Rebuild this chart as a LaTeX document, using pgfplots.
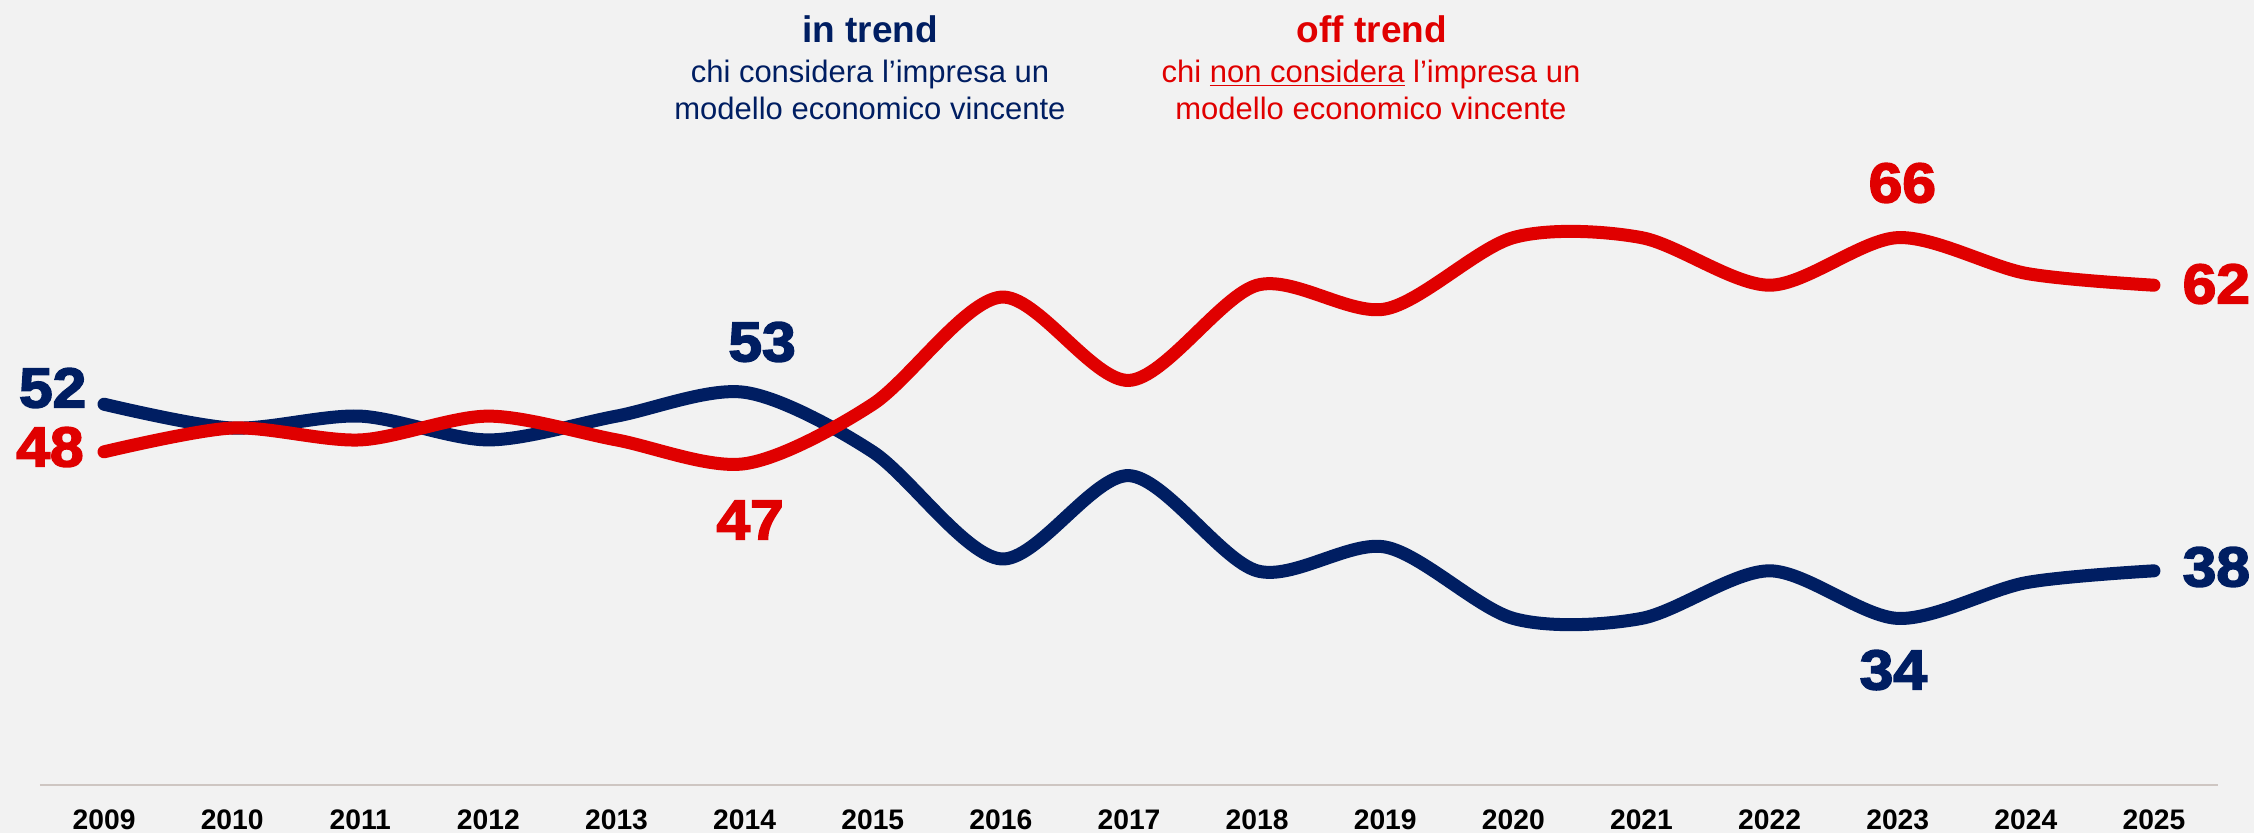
\documentclass[border=0pt]{standalone}
\usepackage{fontspec}
\setmainfont{Liberation Sans}
\newfontfamily\blackfont{Liberation Sans Bold}[FakeBold=3,FakeStretch=1.08]
\usepackage{pgfplots}
\pgfplotsset{compat=1.18}
\definecolor{navy}{RGB}{0,30,98}
\definecolor{myred}{RGB}{224,0,0}
\definecolor{bg}{RGB}{242,242,242}
\definecolor{baseline}{RGB}{206,198,194}

\begin{document}
\begin{tikzpicture}
\fill[bg] (0,0) rectangle (901.6pt,-333.2pt);
\begin{axis}[
  at={(16pt,-314pt)}, anchor=south west,
  scale only axis, width=871.2pt, height=285.6pt,
  xmin=-0.5, xmax=16.5, ymin=20, ymax=80,
  clip=false,
  axis y line=none,
  axis x line*=bottom,
  x axis line style={-, draw=baseline, line width=0.9pt},
  xtick={0,1,2,3,4,5,6,7,8,9,10,11,12,13,14,15,16},
  xticklabels={2009,2010,2011,2012,2013,2014,2015,2016,2017,2018,2019,2020,2021,2022,2023,2024,2025},
  major tick length=0pt,
  xticklabel style={font=\fontsize{11.3pt}{13pt}\selectfont\bfseries, anchor=center, yshift=-14pt, text=black},
  ytick=\empty,
]
\addplot[navy, line width=5.2pt, line cap=round, smooth, tension=0.5] coordinates {
(0,52)(1,50)(2,51)(3,49)(4,51)(5,53)(6,48)(7,39)(8,46)(9,38)(10,40)(11,34)(12,34)(13,38)(14,34)(15,37)(16,38)};
\addplot[myred, line width=5.2pt, line cap=round, smooth, tension=0.5] coordinates {
(0,48)(1,50)(2,49)(3,51)(4,49)(5,47)(6,52)(7,61)(8,54)(9,62)(10,60)(11,66)(12,66)(13,62)(14,66)(15,63)(16,62)};
\tikzset{dl/.style={font=\blackfont\fontsize{22.4pt}{24pt}\selectfont, inner sep=0pt, anchor=center}}
\node[dl, text=navy] at (axis cs:-0.401,53.36) {52};
\node[dl, text=myred] at (axis cs:-0.422,48.40) {48};
\node[dl, text=navy] at (axis cs:5.136,57.23) {53};
\node[dl, text=myred] at (axis cs:5.043,42.27) {47};
\node[dl, text=myred] at (axis cs:14.036,70.59) {66};
\node[dl, text=navy] at (axis cs:13.966,29.66) {34};
\node[dl, text=myred] at (axis cs:16.487,62.10) {62};
\node[dl, text=navy] at (axis cs:16.487,38.32) {38};
\end{axis}
\begin{scope}[x=0.4pt,y=-0.4pt]
\tikzset{tt/.style={anchor=base, font=\fontsize{14.8pt}{17pt}\selectfont\bfseries},
         st/.style={anchor=base, font=\fontsize{12.4pt}{15pt}\selectfont}}
\node[tt, text=navy] at (870,42) {in trend};
\node[st, text=navy] at (870,82) {chi considera l’impresa un};
\node[st, text=navy] at (870,119) {modello economico vincente};
\node[tt, text=myred] at (1372,42) {off trend};
\node[st, text=myred] at (1371,82) {chi \underline{non considera} l’impresa un};
\node[st, text=myred] at (1371,119) {modello economico vincente};
\end{scope}
\pgfresetboundingbox
\path (0,0) rectangle (901.6pt,-333.2pt);
\end{tikzpicture}
\end{document}
